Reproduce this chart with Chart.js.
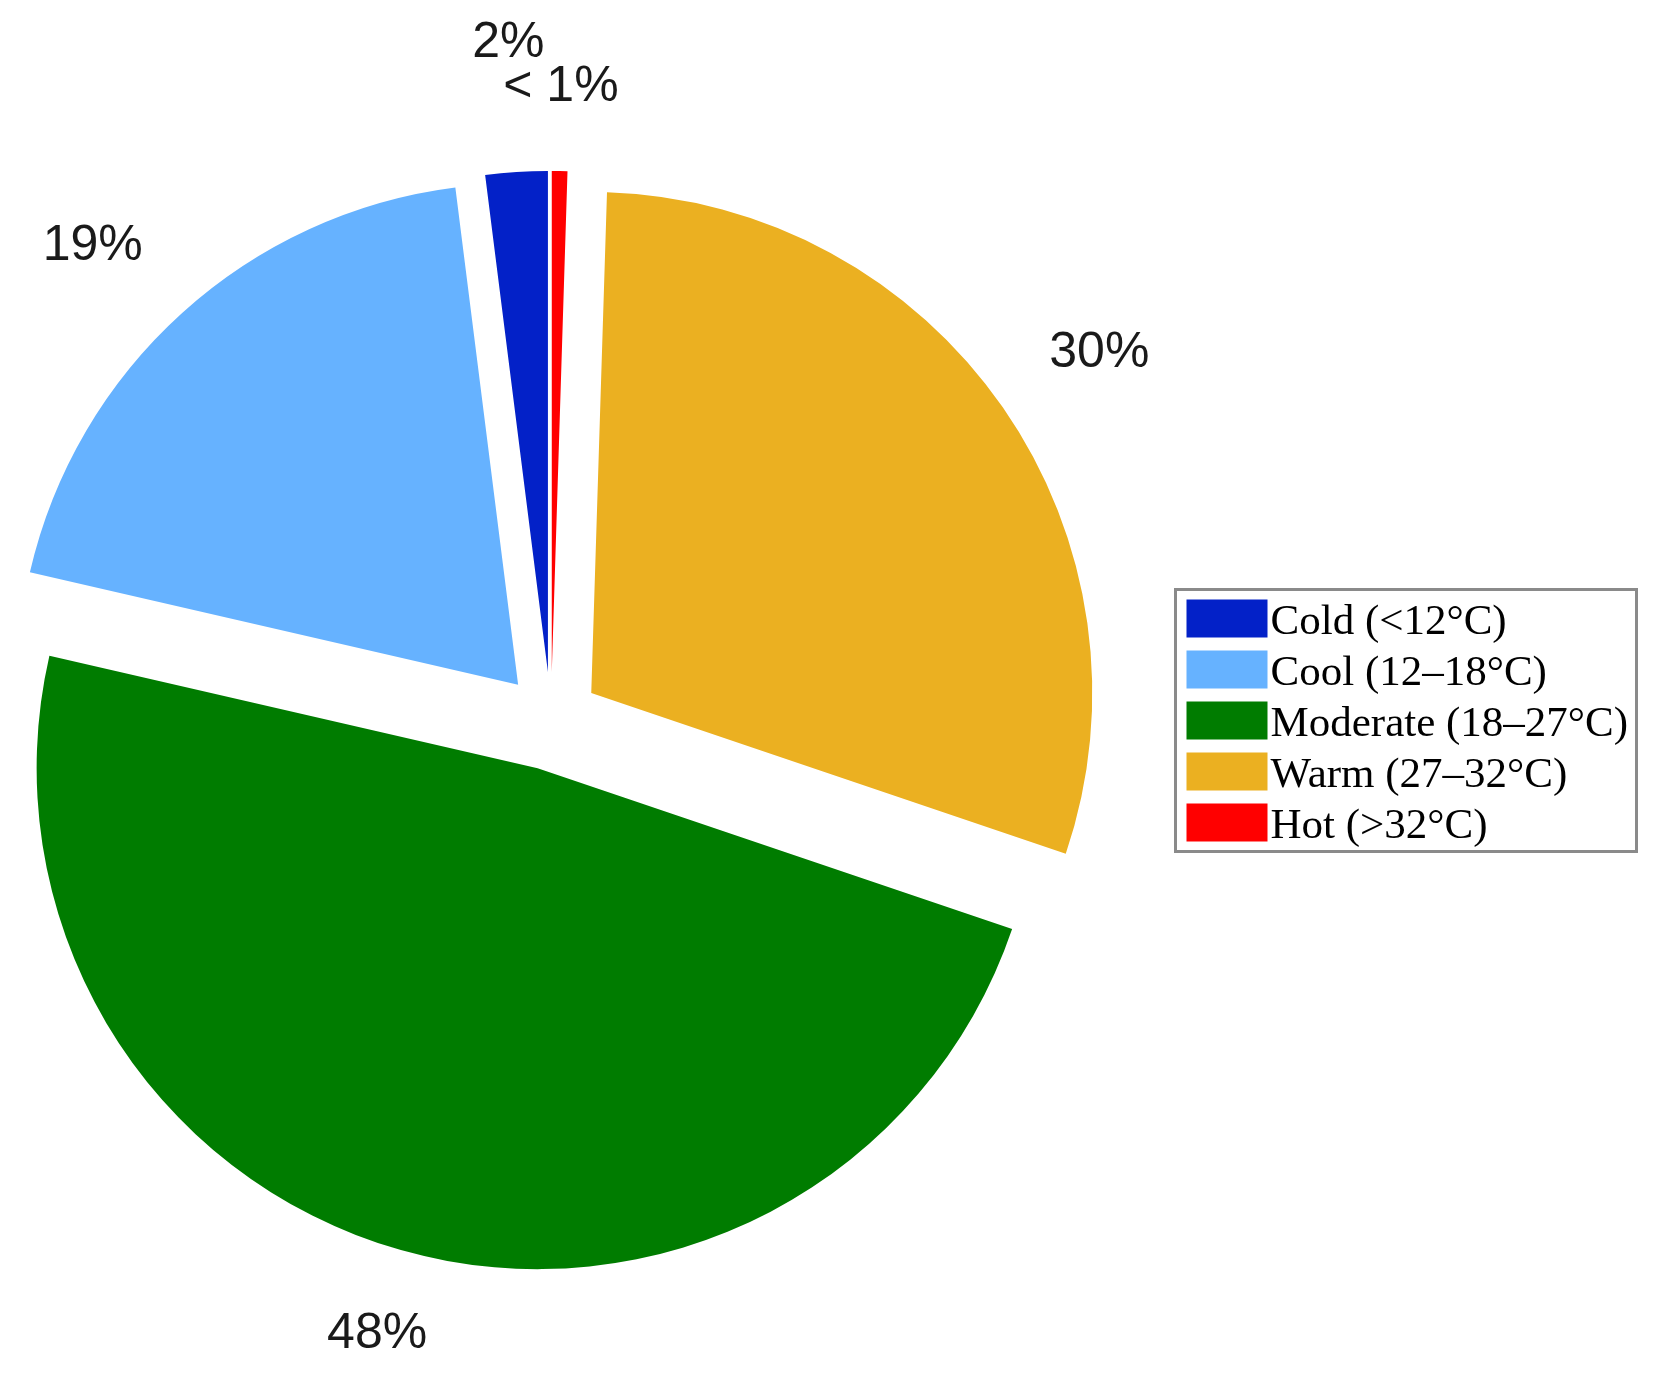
<!DOCTYPE html>
<html>
<head>
<meta charset="utf-8">
<script src="https://cdn.jsdelivr.net/npm/chart.js@4/dist/chart.umd.min.js"></script>
<style>
    html, body { margin: 0; padding: 0; background: #fff; }
    canvas { display: block; }
</style>
</head>
<body>
<canvas id="chart" width="1673" height="1375"></canvas>
<script>
// legend order (counter-clockwise from 12 o'clock in the picture)
const categories = ["Cold (<12°C)", "Cool (12–18°C)", "Moderate (18–27°C)", "Warm (27–32°C)", "Hot (>32°C)"];
const shares = [2.0, 19.4, 48.4, 29.7, 0.5];
const shareLabels = ["2%", "19%", "48%", "30%", "< 1%"];
const sliceColors = ["#0321C8", "#66B2FF", "#007C00", "#EBB021", "#FF0000"];

const GAP = 49;        // how far each slice is pulled out of the centre
const RADIUS = 501;

// chart.js draws clockwise, picture goes the other way -> feed it reversed
const rev = arr => arr.slice().reverse();

// the built-in "offset" also grows the radius of thin slices, so pull every slice out by the same amount here
let explodePlugin = {
    id: "explode",
    beforeDatasetsDraw(chart) {
        const {left, right, top, bottom} = chart.chartArea;
        const cx = (left + right) / 2;
        const cy = (top + bottom) / 2;
        chart.getDatasetMeta(0).data.forEach(arc => {
            const mid = (arc.startAngle + arc.endAngle) / 2;
            arc.x = cx + Math.cos(mid) * GAP;
            arc.y = cy + Math.sin(mid) * GAP;
        });
    }
}

let percentLabelsPlugin = {
    id: "percentLabels",
    afterDatasetsDraw(chart, args, opts) {
        const {ctx} = chart;
        const meta = chart.getDatasetMeta(0);
        const labels = chart.data.datasets[0].percentLabels;
        ctx.save();
        ctx.font = opts.font;
        ctx.fillStyle = opts.color;
        ctx.textAlign = "center";
        ctx.textBaseline = "middle";
        meta.data.forEach((arc, i) => {
            const mid = (arc.startAngle + arc.endAngle) / 2 + (opts.turn[i] || 0) * Math.PI / 180;
            const d = arc.outerRadius + opts.distance + (opts.extra[i] || 0);
            ctx.fillText(labels[i], arc.x + Math.cos(mid) * d, arc.y + Math.sin(mid) * d);
        });
        ctx.restore();
    }
}

let boxedLegendPlugin = {
    id: "boxedLegend",
    afterDraw(chart, args, opts) {
        const {ctx} = chart;
        const ds = chart.data.datasets[0];
        const n = chart.data.labels.length;
        ctx.save();
        ctx.lineWidth = 3;
        ctx.strokeStyle = "#8a8a8a";
        ctx.strokeRect(opts.left, opts.top, opts.width, opts.height);
        ctx.font = opts.font;
        ctx.textBaseline = "middle";
        for (let row = 0; row < n; row++) {
            const i = n - 1 - row;
            const y = opts.top + 10 + row * opts.rowHeight;
            ctx.fillStyle = ds.backgroundColor[i];
            ctx.fillRect(opts.left + 11, y, 81, 38);
            ctx.fillStyle = "#000";
            ctx.fillText(chart.data.labels[i], opts.left + 95, y + 23);
        }
        ctx.restore();
    }
}

const chartData = {
    labels: rev(categories),
    datasets: [{
        data: rev(shares),
        backgroundColor: rev(sliceColors),
        percentLabels: rev(shareLabels),
        borderWidth: 0,
        offset: 0,
        hoverOffset: 0
    }]
};

new Chart(document.getElementById("chart"), {
    type: "pie",
    data: chartData,
    plugins: [explodePlugin, percentLabelsPlugin, boxedLegendPlugin],
    options: {
        responsive: false,
        animation: false,
        events: [],
        devicePixelRatio: 1,
        radius: RADIUS,
        layout: {
            padding: {left: 0, right: 571, top: 67, bottom: 0}
        },
        plugins: {
            legend: {display: false},
            tooltip: {enabled: false},
            percentLabels: {
                font: "50px 'Liberation Sans', Arial, sans-serif",
                color: "#1a1a1a",
                distance: 110,
                // chart order: hot, warm, moderate, cool, cold
                extra: [-26, 0, -23, 0, 19],
                turn: [0, 1, 0, -2, 0]
            },
            boxedLegend: {
                left: 1175.5,
                top: 589.5,
                width: 461,
                height: 262,
                rowHeight: 51,
                font: "43px 'Liberation Serif', 'Times New Roman', serif"
            }
        }
    }
});
</script>
</body>
</html>
